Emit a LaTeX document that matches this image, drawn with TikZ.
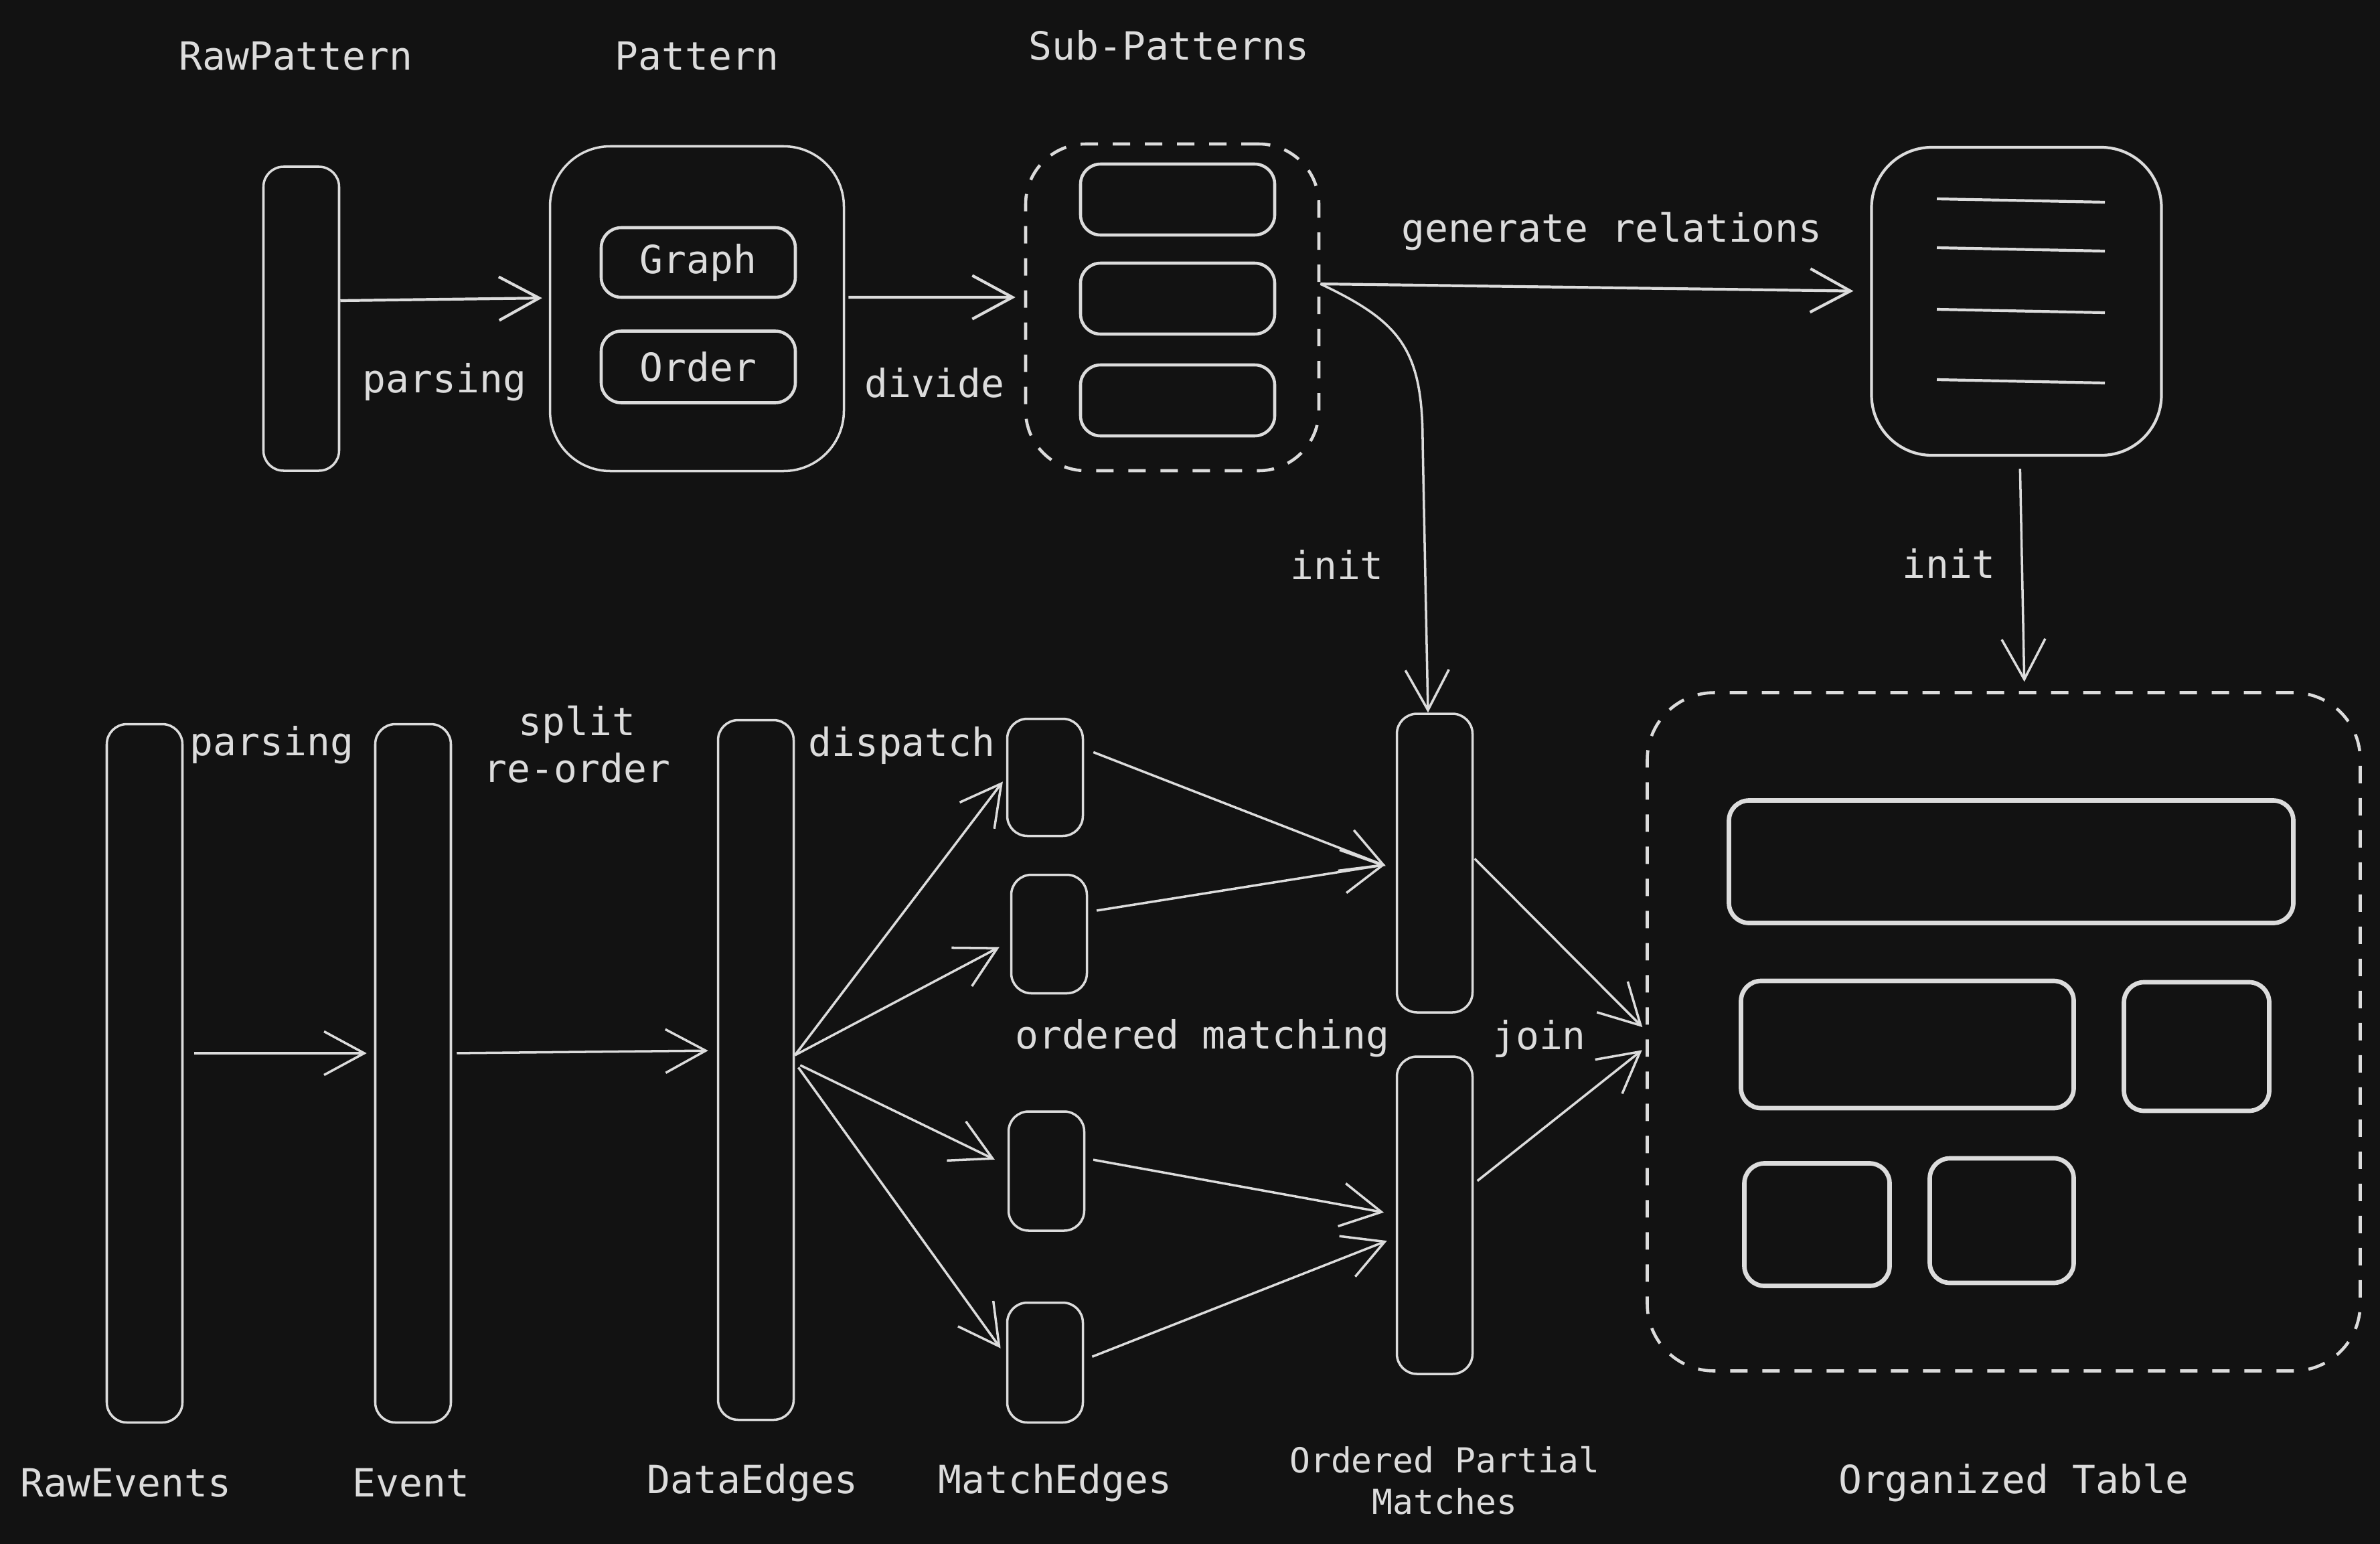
\documentclass[tikz,border=0pt]{standalone}
\usepackage{fontspec}
\setmonofont{DejaVu Sans Mono}
\usetikzlibrary{arrows.meta,positioning}
\definecolor{ink}{HTML}{DCDCDC}
\definecolor{board}{HTML}{121212}
\tikzset{%
  >={Straight Barb[length=6mm,width=6.5mm]},
  every node/.style={text=ink,font=\ttfamily\fontsize{16.5}{20}\selectfont},
  box/.style={draw=ink,line width=1pt,rounded corners=3mm,inner sep=0pt},
  bar/.style={box,minimum width=1.13cm},
  bigbox/.style={box,rounded corners=9mm},
  groupbox/.style={box,line width=1.3pt,rounded corners=9mm,
    dash pattern=on 2.6mm off 2.2mm},
  cell/.style={box,line width=1.9pt},
  flow/.style={->,draw=ink,line width=1pt},
  caption/.style={inner sep=1pt,align=center}
}
\begin{document}
\begin{tikzpicture}
%% canvas
\fill[board] (0,0) rectangle (35.55,-23.06);

%% pattern side
\node[bar,minimum height=4.54cm] (rawpat) at (4.50,-4.76) {};
\node[bigbox,minimum width=4.39cm,minimum height=4.85cm] (pattern) at (10.41,-4.61) {};
\node[box,line width=1.3pt,minimum width=2.90cm,minimum height=1.04cm] (graph) at (10.43,-3.92) {Graph};
\node[box,line width=1.3pt,minimum width=2.90cm,minimum height=1.07cm] (order) at (10.43,-5.48) {Order};
\node[groupbox,minimum width=4.38cm,minimum height=4.88cm] (subpat) at (17.51,-4.59) {};
\node[box,line width=1.3pt,minimum width=2.90cm,minimum height=1.06cm] (sub1) at (17.59,-2.98) {};
\node[box,line width=1.3pt,minimum width=2.90cm,minimum height=1.06cm] (sub2) at (17.59,-4.46) {};
\node[box,line width=1.3pt,minimum width=2.90cm,minimum height=1.06cm] (sub3) at (17.59,-5.98) {};
\node[bigbox,line width=1.2pt,minimum width=4.33cm,minimum height=4.60cm] (rel) at (30.12,-4.50) {};
\foreach \y in {-2.97,-3.70,-4.62,-5.67}
  \draw[draw=ink,line width=1.2pt] (28.93,\y) -- (31.44,\y-0.05);

\node[caption] (lrawpat) at (4.42,-0.84) {RawPattern};
\node[caption] (lpattern) at (10.41,-0.84) {Pattern};
\node[caption] (lsubpat) at (17.46,-0.68) {Sub-Patterns};

%% event side
\node[bar,minimum height=10.43cm] (rawev) at (2.16,-16.03) {};
\node[bar,minimum height=10.43cm] (event) at (6.17,-16.03) {};
\node[bar,minimum height=10.45cm] (dataedges) at (11.29,-15.98) {};
\node[bar,minimum height=1.75cm] (match1) at (15.61,-11.61) {};
\node[bar,minimum height=1.77cm] (match2) at (15.67,-13.95) {};
\node[bar,minimum height=1.78cm] (match3) at (15.63,-17.49) {};
\node[bar,minimum height=1.79cm] (match4) at (15.61,-20.35) {};
\node[bar,minimum height=4.46cm] (opm1) at (21.43,-12.89) {};
\node[bar,minimum height=4.74cm] (opm2) at (21.43,-18.15) {};

%% organized table
\node[groupbox,rounded corners=10mm,minimum width=10.65cm,minimum height=10.13cm] (table) at (29.93,-15.41) {};
\node[cell,minimum width=8.43cm,minimum height=1.83cm] (t1) at (30.04,-12.87) {};
\node[cell,minimum width=4.97cm,minimum height=1.90cm] (t2) at (28.49,-15.60) {};
\node[cell,minimum width=2.17cm,minimum height=1.92cm] (t3) at (32.81,-15.63) {};
\node[cell,minimum width=2.17cm,minimum height=1.83cm] (t4) at (27.14,-18.29) {};
\node[cell,minimum width=2.15cm,minimum height=1.86cm] (t5) at (29.90,-18.23) {};

\node[caption] (lrawev) at (1.88,-22.15) {RawEvents};
\node[caption] (levent) at (6.14,-22.15) {Event};
\node[caption] (ldata) at (11.24,-22.15) {DataEdges};
\node[caption] (lmatch) at (15.76,-22.15) {MatchEdges};
\node[caption,font=\ttfamily\fontsize{14.6}{17.6}\selectfont] (lopm) at (21.58,-22.11) {Ordered Partial\\Matches};
\node[caption] (ltable) at (30.08,-22.15) {Organized Table};

%% top flow
\draw[flow,line width=1.2pt,shorten >=1mm] ([yshift=2.7mm]rawpat.east) -- ([yshift=1.6mm]pattern.west)
  node[caption,pos=0.5,below=9mm] {parsing};
\draw[flow,line width=1.2pt,shorten <=0.5mm,shorten >=1.3mm] ([yshift=1.7mm]pattern.east) -- ([yshift=1.5mm]subpat.west)
  node[caption,pos=0.5,below=10mm] {divide};
\draw[flow,line width=1.2pt,shorten >=2.5mm] ([yshift=3.5mm]subpat.east) -- ([yshift=1.5mm]rel.west)
  node[caption,pos=0.53,above=5mm] {generate relations};
\draw[flow] ([yshift=3.5mm]subpat.east) .. controls (20.9,-4.8) and (21.25,-5.2) ..
  (21.25,-6.6) -- ([xshift=-1mm]opm1.north);
\draw[flow,shorten <=1.8mm,shorten >=1.4mm] ([xshift=0.5mm]rel.south) -- ([xshift=3.1mm]table.north);
\node[caption] (linit1) at (19.97,-8.43) {init};
\node[caption] (linit2) at (29.11,-8.41) {init};

%% bottom flow
\draw[flow,shorten <=1.6mm,shorten >=1.1mm] ([yshift=3mm]rawev.east) -- ([yshift=3mm]event.west);
\draw[flow,shorten <=0.7mm,shorten >=1.3mm] ([yshift=3mm]event.east) -- ([yshift=2.9mm]dataedges.west);
\node[caption] (lparse) at (4.06,-11.13) {parsing};
\node[caption] (lsplit) at (8.62,-11.12) {split\\re-order};
\node[caption] (ldispatch) at (13.47,-11.13) {dispatch};

\draw[flow,shorten >=0.8mm] ([yshift=2.2mm]dataedges.east) -- (match1.west);
\draw[flow,shorten >=1.8mm] ([yshift=2.2mm]dataedges.east) -- ([yshift=-1.1mm]match2.west);
\draw[flow,shorten <=0.9mm,shorten >=2.1mm] ([yshift=1.1mm]dataedges.east) -- ([yshift=0.8mm]match3.west);
\draw[flow,shorten <=0.9mm,shorten >=1.4mm] ([yshift=1.1mm]dataedges.east) -- ([yshift=1mm]match4.west);

\draw[flow,shorten <=1.5mm,shorten >=1.6mm] ([yshift=4.3mm]match1.east) -- ([yshift=-1mm]opm1.west);
\draw[flow,shorten <=1.3mm,shorten >=1.6mm] ([yshift=3.3mm]match2.east) -- (opm1.west);
\draw[flow,shorten <=1.2mm,shorten >=1.8mm] ([yshift=1.9mm]match3.east) -- ([yshift=0.1mm]opm2.west);
\draw[flow,shorten <=1.3mm,shorten >=1.4mm] ([yshift=0.4mm]match4.east) -- ([yshift=-3.3mm]opm2.west);
\node[caption] (lmatching) at (17.96,-15.51) {ordered matching};

\draw[flow,shorten <=0.2mm,shorten >=0.7mm] ([yshift=0.8mm]opm1.east) -- ([yshift=0.2mm]table.west);
\draw[flow,shorten <=0.7mm,shorten >=0.7mm] ([yshift=4.7mm]opm2.east) -- ([yshift=-2.3mm]table.west);
\node[caption] (ljoin) at (22.99,-15.51) {join};
\end{tikzpicture}
\end{document}
